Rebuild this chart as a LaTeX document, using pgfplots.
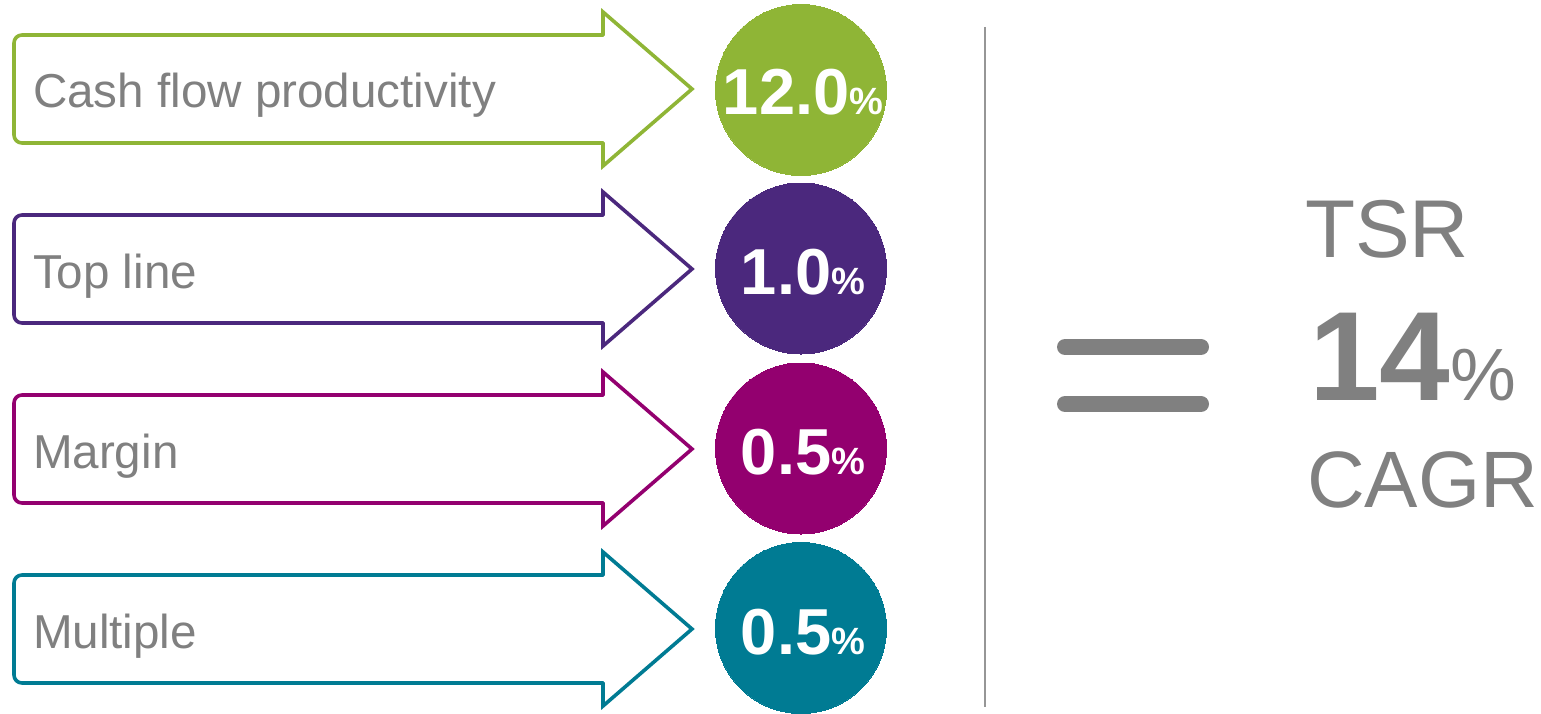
\documentclass[border=0pt]{standalone}
\usepackage{pgfplots}
\pgfplotsset{compat=1.18}
\usepackage{fontspec}
\setmainfont{Liberation Sans}
\definecolor{cgreen}{RGB}{143,181,54}
\definecolor{cpurple}{RGB}{75,40,125}
\definecolor{cmagenta}{RGB}{147,0,111}
\definecolor{cteal}{RGB}{0,123,147}
\definecolor{cgray}{RGB}{128,128,128}
\definecolor{cline}{RGB}{150,150,150}
\begin{document}
\begin{tikzpicture}
\begin{axis}[
  width=770.5pt, height=355pt, scale only axis,
  xmin=0, xmax=1541, ymin=0, ymax=710, y dir=reverse,
  hide axis, clip=false, set layers=standard,
]
% invisible frame for the bounding box
\addplot[draw=none] coordinates {(0,0) (1541,710)};
% arrows: row centres 89, 269, 449, 629
\addplot[cgreen, line width=1.8pt, rounded corners=4pt, line cap=round] coordinates {(603,143) (14,143) (14,35) (603,35)};
\addplot[cgreen, line width=1.8pt, line cap=round, line join=miter] coordinates {(603,35) (603,12) (692,89) (603,166) (603,143)};
\addplot[cpurple, line width=1.8pt, rounded corners=4pt, line cap=round] coordinates {(603,323) (14,323) (14,215) (603,215)};
\addplot[cpurple, line width=1.8pt, line cap=round, line join=miter] coordinates {(603,215) (603,192) (692,269) (603,346) (603,323)};
\addplot[cmagenta, line width=1.8pt, rounded corners=4pt, line cap=round] coordinates {(603,503) (14,503) (14,395) (603,395)};
\addplot[cmagenta, line width=1.8pt, line cap=round, line join=miter] coordinates {(603,395) (603,372) (692,449) (603,526) (603,503)};
\addplot[cteal, line width=1.8pt, rounded corners=4pt, line cap=round] coordinates {(603,683) (14,683) (14,575) (603,575)};
\addplot[cteal, line width=1.8pt, line cap=round, line join=miter] coordinates {(603,575) (603,552) (692,629) (603,706) (603,683)};
% circles
\addplot[color=cgreen, only marks, mark=*, mark size=42.75pt, mark options={fill=cgreen, draw=cgreen, line width=0pt}] coordinates {(801,90)};
\addplot[color=cpurple, only marks, mark=*, mark size=42.75pt, mark options={fill=cpurple, draw=cpurple, line width=0pt}] coordinates {(801,268.5)};
\addplot[color=cmagenta, only marks, mark=*, mark size=42.75pt, mark options={fill=cmagenta, draw=cmagenta, line width=0pt}] coordinates {(801,448.5)};
\addplot[color=cteal, only marks, mark=*, mark size=42.75pt, mark options={fill=cteal, draw=cteal, line width=0pt}] coordinates {(801,628)};
% separator
\addplot[cline, line width=1pt] coordinates {(985,27) (985,707)};
% equals sign
\addplot[cgray, line width=8pt, line cap=round] coordinates {(1065,347) (1201,347)};
\addplot[cgray, line width=8pt, line cap=round] coordinates {(1065,404) (1201,404)};
% labels
\begin{pgfonlayer}{axis foreground}
\begin{scope}[every node/.style={inner sep=0pt, outer sep=0pt}]
\node[anchor=base west, text=cgray] at (axis cs:33,108) {\fontsize{23.8}{24}\selectfont Cash flow productivity};
\node[anchor=base west, text=cgray] at (axis cs:33,288) {\fontsize{23.8}{24}\selectfont Top line};
\node[anchor=base west, text=cgray] at (axis cs:33,468) {\fontsize{23.8}{24}\selectfont Margin};
\node[anchor=base west, text=cgray] at (axis cs:33,648) {\fontsize{23.8}{24}\selectfont Multiple};
\node[anchor=base, text=white] at (axis cs:803,115) {\bfseries\fontsize{32.5}{33}\selectfont 12.0{\fontsize{19}{19}\selectfont\%}};
\node[anchor=base, text=white] at (axis cs:803,294.5) {\bfseries\fontsize{32.5}{33}\selectfont 1.0{\fontsize{19}{19}\selectfont\%}};
\node[anchor=base, text=white] at (axis cs:803,474.5) {\bfseries\fontsize{32.5}{33}\selectfont 0.5{\fontsize{19}{19}\selectfont\%}};
\node[anchor=base, text=white] at (axis cs:803,654) {\bfseries\fontsize{32.5}{33}\selectfont 0.5{\fontsize{19}{19}\selectfont\%}};
\node[anchor=base west, text=cgray] at (axis cs:1305,257) {\fontsize{41}{41}\selectfont TSR};
\node[anchor=base west, text=cgray] at (axis cs:1309,400) {\bfseries\fontsize{63.5}{64}\selectfont 14{\mdseries\fontsize{37}{37}\selectfont\%}};
\node[anchor=base west, text=cgray] at (axis cs:1307,507) {\fontsize{40}{40}\selectfont CAGR};
\end{scope}
\end{pgfonlayer}
\end{axis}
\end{tikzpicture}
\end{document}
